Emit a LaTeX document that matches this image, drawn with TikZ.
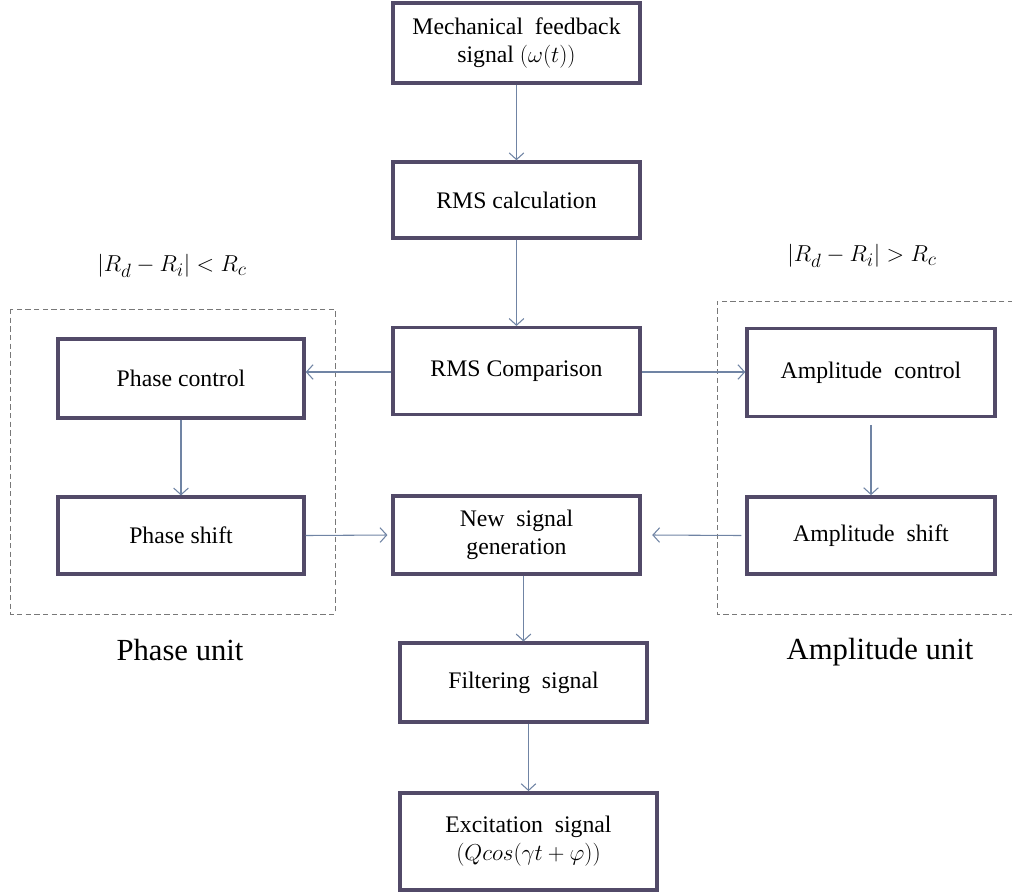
\documentclass[tikz,border=0pt]{standalone}
\usepackage{fontspec}
\setmainfont{Liberation Serif}
\usetikzlibrary{arrows.meta,calc}
\definecolor{boxc}{RGB}{82,74,104}
\definecolor{arrc}{RGB}{112,132,164}
\definecolor{dashc}{RGB}{120,120,120}
\tikzset{
  blk/.style={draw=boxc, line width=2.6pt, fill=white, align=center, inner sep=0pt,
    font=\fontsize{17.8}{21}\selectfont},
  conn/.style={draw=arrc, line width=0.8pt, -{Straight Barb[length=5pt,width=11pt,line width=0.8pt]}},
  unitbox/.style={draw=dashc, line width=0.7pt, dash pattern=on 4pt off 2.5pt},
  unitlbl/.style={font=\fontsize{23}{27}\selectfont},
  cond/.style={font=\fontsize{19}{23}\selectfont},
}
\begin{document}
\begin{tikzpicture}[x=0.75pt,y=-0.75pt]
\useasboundingbox (0,0) rectangle (1012,893);
% dashed unit boxes
\draw[unitbox] (10,309) rectangle (335,614);
\draw[unitbox] (1013,301) -- (717,301) -- (717,614) -- (1013,614);
% boxes
\node[blk, minimum width=185pt, minimum height=60pt] (top) at (516.5,43) {Mechanical~ feedback\\signal $(\omega(t))$};
\node[blk, minimum width=185pt, minimum height=57pt] (calc) at (516.5,200) {RMS calculation};
\node[blk, minimum width=185pt, minimum height=65pt] (comp) at (516.5,371) {RMS Comparison};
\node[blk, minimum width=184.5pt, minimum height=59pt] (pc) at (181,378.5) {Phase control};
\node[blk, minimum width=184.5pt, minimum height=57.5pt] (ps) at (181,535.5) {Phase shift};
\node[blk, minimum width=186pt, minimum height=66pt] (ac) at (871,372.5) {Amplitude~ control};
\node[blk, minimum width=186pt, minimum height=58pt] (as) at (871,535.5) {Amplitude~ shift};
\node[blk, minimum width=185pt, minimum height=58.5pt] (ns) at (516.5,535) {New~ signal\\generation};
\node[blk, minimum width=185pt, minimum height=59pt] (fil) at (523.5,682.5) {Filtering~ signal};
\node[blk, minimum width=193pt, minimum height=73pt] (exc) at (528.5,841.5) {Excitation~ signal\\$(Qcos(\gamma t+\varphi))$};
% labels
\node[cond] (cl) at (172,266) {$|R_d-R_i|<R_c$};
\node[cond] (cr) at (862,256) {$|R_d-R_i|>R_c$};
\node[unitlbl] (pu) at (180,650) {Phase unit};
\node[unitlbl] (au) at (880,652) {Amplitude unit};
% connectors
\draw[conn] (top.south) -- (calc.north);
\draw[conn] (calc.south) -- (comp.north);
\draw[conn] (comp.west |- 0,372) -- (pc.east |- 0,372);
\draw[conn] (comp.east |- 0,372) -- (ac.west |- 0,372);
\draw[conn] (pc.south) -- (ps.north);
\draw[conn] ([yshift=-5pt]ac.south) -- (as.north);
\draw[conn] (ps.east) -- ([xshift=-3pt]ns.west);
\draw[conn] ([xshift=-3pt]as.west) -- ([xshift=8pt]ns.east);
\draw[conn] (fil.north |- ns.south) -- (fil.north);
\draw[conn] (exc.north |- fil.south) -- (exc.north);
\end{tikzpicture}
\end{document}
